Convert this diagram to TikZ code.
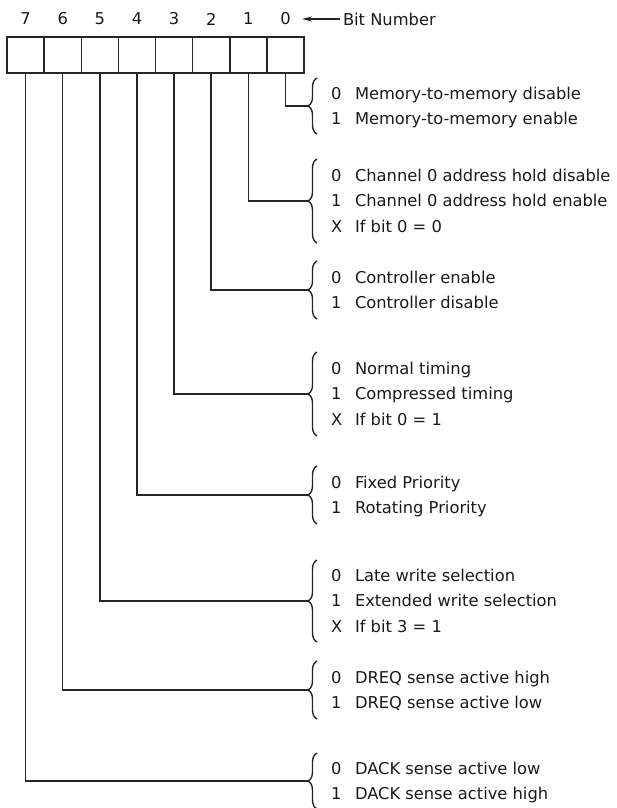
\documentclass[tikz,border=0pt]{standalone}
\usepackage{fontspec}
\setmainfont{DejaVu Sans}
\usetikzlibrary{decorations.pathreplacing,arrows.meta}
\newcommand\optrow[4]{%
  \node[opt] (d#1) at (331,#2+5.9) {#3};
  \node[opt] (l#1) at (355,#2+5.9) {#4};}
\begin{document}
\begin{tikzpicture}[x=1pt,y=-1pt,
  every node/.style={inner sep=0pt, outer sep=0pt, text=black!90},
  wire/.style={line width=1.5pt, draw=black!85},
  cell/.style={draw=black!85, line width=1.5pt, minimum width=37.125pt, minimum height=36pt, anchor=north west},
  bitnum/.style={font=\fontsize{16.3}{18}\selectfont},
  opt/.style={font=\fontsize{16.3}{18}\selectfont, anchor=base west},
  curly/.style={decorate, decoration={brace, amplitude=9pt}, line width=1.4pt, draw=black!85}
]
\useasboundingbox (0,0) rectangle (616,808);
\foreach \i in {0,...,7} {
  \pgfmathsetmacro\xx{7+37.125*(7-\i)}
  \pgfmathsetmacro\xc{7+37.125*(7-\i)+18.5625}
  \node[cell] (c\i) at (\xx,37) {};
  \node[bitnum] (n\i) at (\xc,19) {\i};
}
% Bit Number label
\node[bitnum, anchor=west] (bn) at (343,19) {Bit Number};
\coordinate (bt) at (302,19);
\draw[wire, shorten <=3pt, -{Stealth[length=10pt,width=5pt]}] (bn.west) -- (bt);

% brace tips and connectors
\foreach \i/\c/\h in {0/106/28, 1/201/42, 2/290/29, 3/394/42, 4/495/29, 5/601/41, 6/690/29, 7/781/28} {
  \coordinate (t\i) at (308,\c);
  \draw[curly] (317,\c+\h) -- (317,\c-\h);
  \draw[wire] (c\i.south) |- (t\i);
}

% option texts
\optrow{0a}{93.25}{0}{Memory-to-memory disable}
\optrow{0b}{118.75}{1}{Memory-to-memory enable}

\optrow{1a}{175.5}{0}{Channel 0 address hold disable}
\optrow{1b}{201}{1}{Channel 0 address hold enable}
\optrow{1c}{226.5}{X}{If bit 0 = 0}

\optrow{2a}{277.25}{0}{Controller enable}
\optrow{2b}{302.75}{1}{Controller disable}

\optrow{3a}{368.5}{0}{Normal timing}
\optrow{3b}{394}{1}{Compressed timing}
\optrow{3c}{419.5}{X}{If bit 0 = 1}

\optrow{4a}{482.25}{0}{Fixed Priority}
\optrow{4b}{507.75}{1}{Rotating Priority}

\optrow{5a}{575.5}{0}{Late write selection}
\optrow{5b}{601}{1}{Extended write selection}
\optrow{5c}{626.5}{X}{If bit 3 = 1}

\optrow{6a}{677.25}{0}{DREQ sense active high}
\optrow{6b}{702.75}{1}{DREQ sense active low}

\optrow{7a}{768.25}{0}{DACK sense active low}
\optrow{7b}{793.75}{1}{DACK sense active high}
\end{tikzpicture}
\end{document}
